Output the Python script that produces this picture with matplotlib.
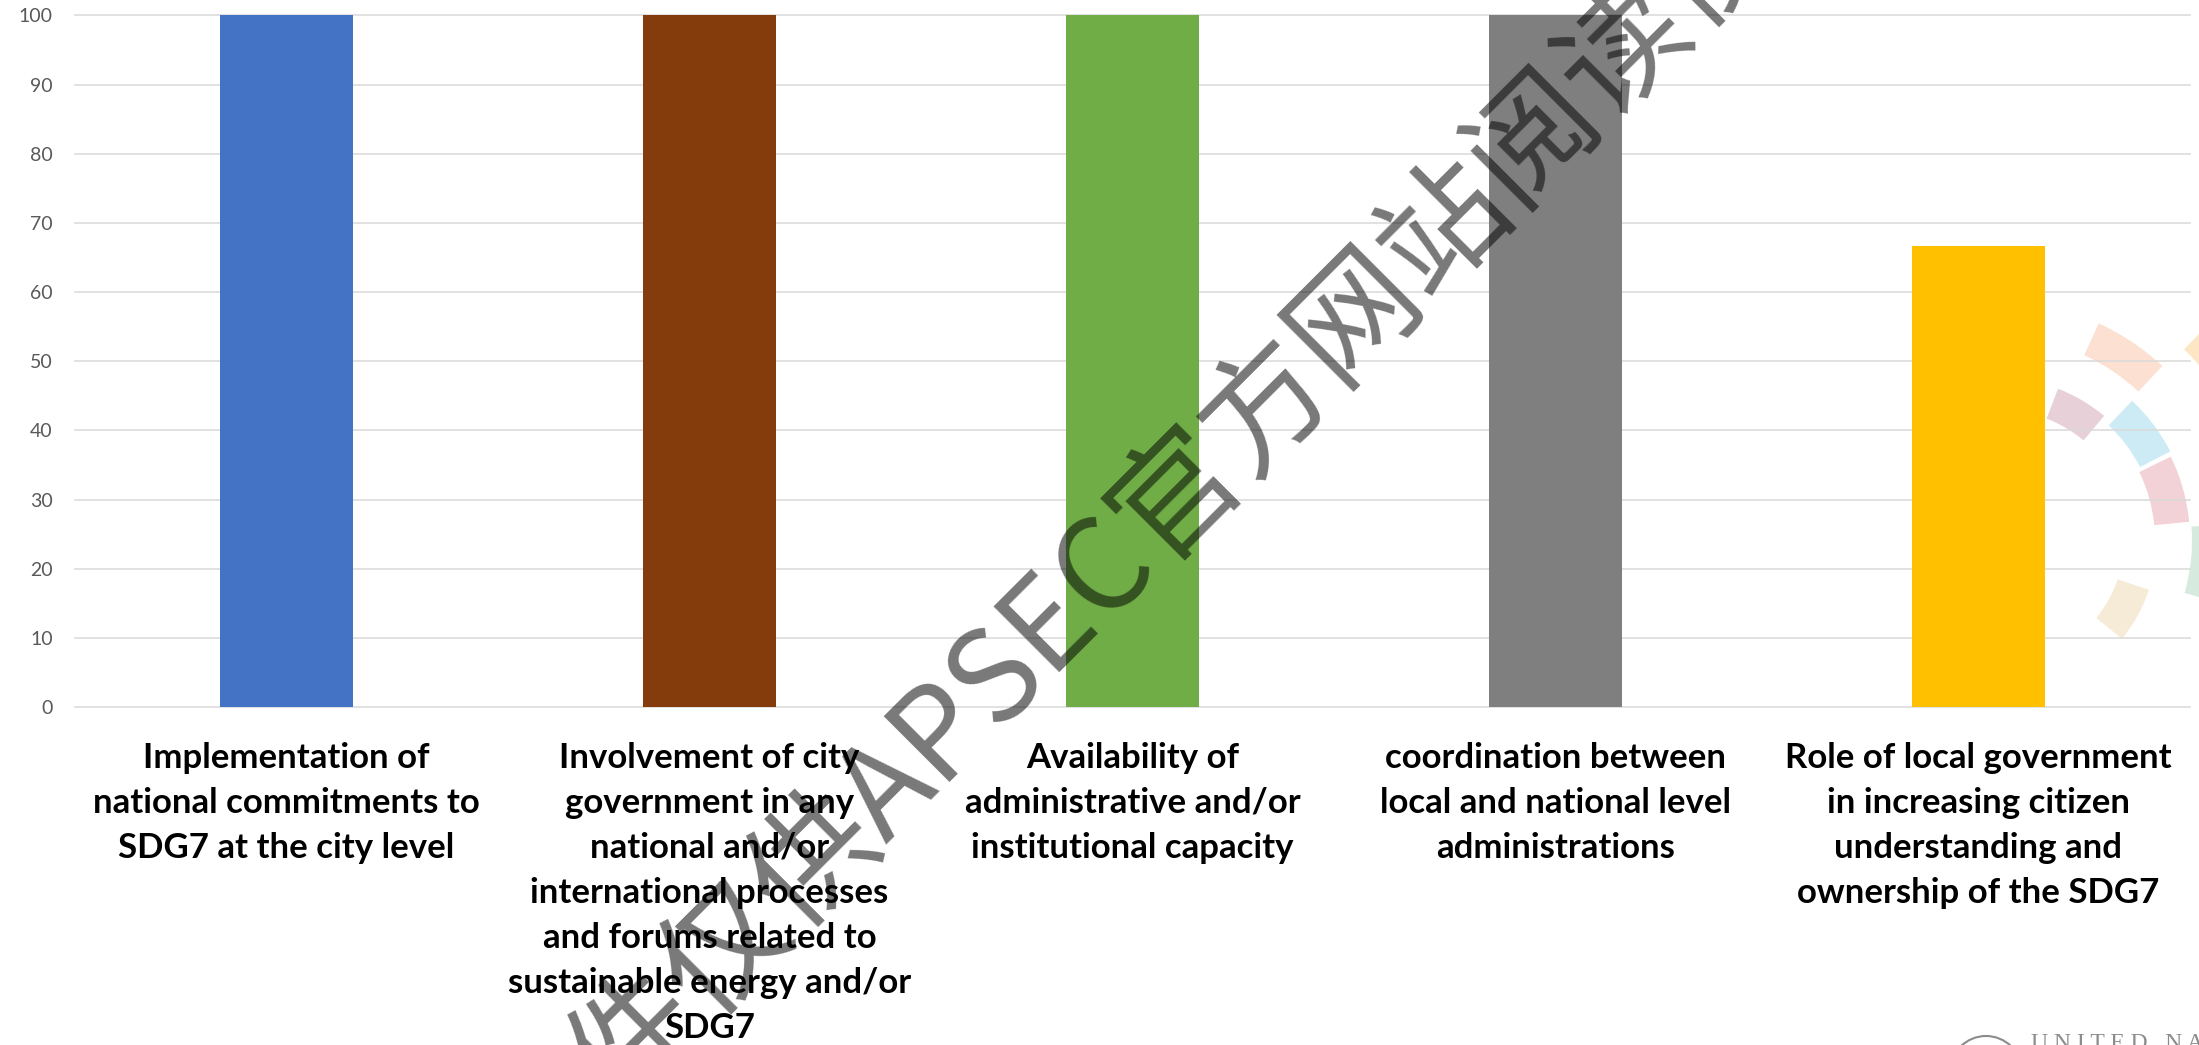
import numpy as np
import matplotlib.pyplot as plt
from matplotlib.patches import Wedge, Circle

# Data
categories = [
    "Implementation of\nnational commitments to\nSDG7 at the city level",
    "Involvement of city\ngovernment in any\nnational and/or\ninternational processes\nand forums related to\nsustainable energy and/or\nSDG7",
    "Availability of\nadministrative and/or\ninstitutional capacity",
    "coordination between\nlocal and national level\nadministrations",
    "Role of local government\nin increasing citizen\nunderstanding and\nownership of the SDG7",
]
values = [100, 100, 100, 100, 66.7]
bar_colors = ["#4472C4", "#843C0C", "#70AD47", "#7F7F7F", "#FFC000"]
y_ticks = list(range(0, 101, 10))

watermark = "文件仅供APSEC官方网站阅读使用"

# faded ring segments from the slide background (theta1, theta2, r_in, r_out, colour)
ring_segments = [
    (-65.5, -47.0, 203, 238, "#FCE1D3"),
    (-46.5, -27.5, 158, 192, "#CDEBF4"),
    (-26.0, -5.5, 155, 190, "#F2D1D7"),
    (-4.0, 16.0, 192, 235, "#D6EBDD"),
    (-69.0, -50.0, 130, 162, "#E8D0D8"),
    (18.5, 39.0, 124, 157, "#F5EBD6"),
    (-46.0, -30.0, 265, 300, "#FDE6C4"),
]

W, H = 2199, 1045
fig = plt.figure(figsize=(W / 100, H / 100), dpi=100)

# background layer in pixel coordinates
bg = fig.add_axes([0, 0, 1, 1], zorder=0)
bg.set_xlim(0, W)
bg.set_ylim(H, 0)
bg.axis("off")
for t1, t2, r_in, r_out, col in ring_segments:
    bg.add_patch(Wedge((2000, 540), r_out, t1, t2, width=r_out - r_in,
                       facecolor=col, edgecolor="none"))
bg.add_patch(Circle((1986, 1072), 36, facecolor="none", edgecolor="#8c8c8c", lw=1.5))
bg.text(2031, 1033, "U N I T E D   N A T I O N S", ha="left", va="top",
        fontsize=17, family="Liberation Serif", color="#8c8c8c")

# main chart
ax = fig.add_axes([75 / W, 1 - 707 / H, (2190 - 75) / W, (707 - 15.4) / H], zorder=1)
ax.patch.set_alpha(0)
x = np.arange(len(categories))
ax.bar(x, values, width=0.315, color=bar_colors, zorder=3)

ax.set_xlim(-0.5, len(categories) - 0.5)
ax.set_ylim(0, 100)
ax.set_yticks(y_ticks)
ax.yaxis.grid(True, color="#D9D9D9", linewidth=1.1, zorder=0)
ax.set_axisbelow(True)
for gl in ax.get_ygridlines():
    gl.set_clip_on(False)
for s in ax.spines.values():
    s.set_visible(False)

ax.tick_params(axis="y", length=0, pad=16, labelsize=14, labelcolor="#595959")
for lbl in ax.get_yticklabels():
    lbl.set_family("Lato")
ax.set_xticks(x)
ax.set_xticklabels(categories, fontsize=25, fontweight="bold", family="Lato",
                   linespacing=1.5, color="black")
ax.tick_params(axis="x", length=0, pad=25)

# watermark
fig.text(1175 / W, 1 - 500 / H, watermark, fontsize=91, rotation=45,
         rotation_mode="anchor", ha="center", va="center", color="black",
         alpha=0.53, family=["Noto Sans CJK SC", "DejaVu Sans"], zorder=10)

fig.savefig("out.png", dpi=100)
